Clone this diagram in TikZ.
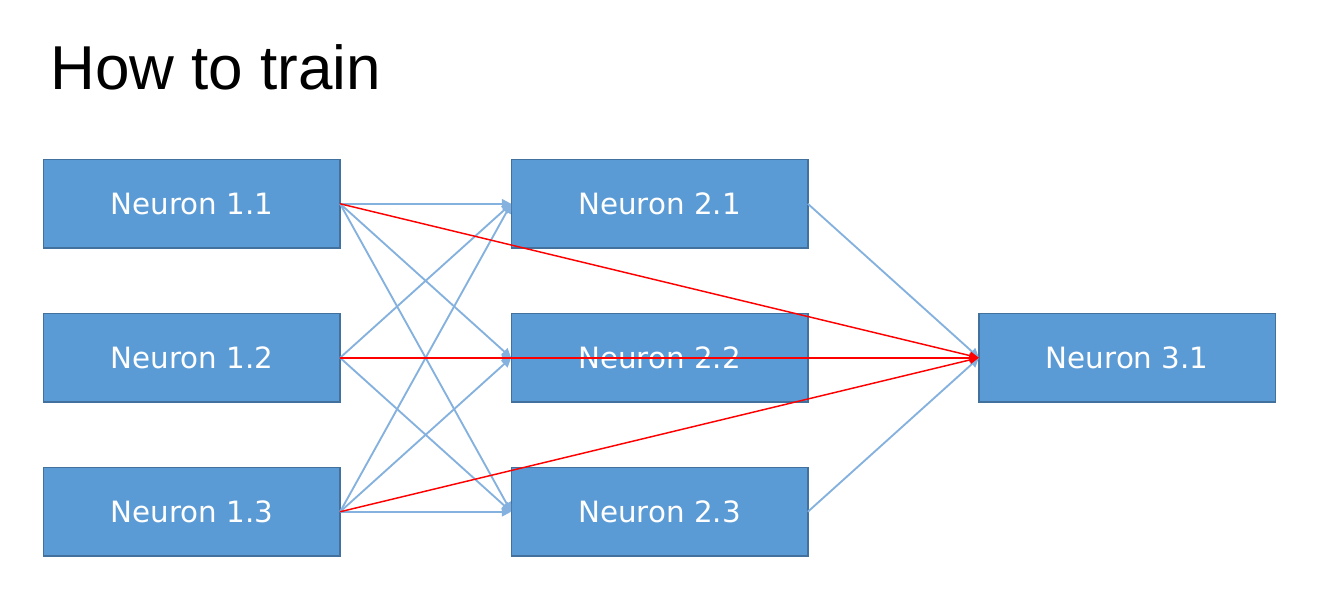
\documentclass[tikz,border=0pt]{standalone}
\usepackage{fontspec}
\setmainfont{Liberation Sans}
\newfontfamily\neuronfont{DejaVu Sans}
\usetikzlibrary{arrows.meta,
                positioning}

\definecolor{cellfill}{HTML}{5B9BD5}
\definecolor{cellline}{HTML}{41719C}
\definecolor{linkblue}{RGB}{132,177,222}

\begin{document}
\begin{tikzpicture}[
    x=0.75pt, y=-0.75pt,
        neuron/.style = {draw=cellline, line width=1pt, fill=cellfill,
                    text=white, font=\neuronfont\fontsize{22}{24}\selectfont,
                    minimum width=222.5pt, minimum height=66.5pt,
                    inner sep=0pt, outer sep=0pt},
        link/.style = {draw=linkblue, line width=1.4pt,
                    -{Triangle[length=7pt, width=7pt]}},
        hot/.style = {draw=red, line width=1.1pt,
                    -{Triangle[length=7pt, width=6pt]}}
        ]

    \useasboundingbox (0,0) rectangle (1338,602);

    \node[anchor=base west, inner sep=0pt, font=\fontsize{46.5}{50}\selectfont]
        (title) at (50,90) {How to train};

    \matrix[anchor=north west, inner sep=0pt,
            column sep=127.3pt, row sep=48pt] at (42.5,158.5)
    {
        % Row 1
        \node[neuron] (n11) {Neuron 1.1}; & \node[neuron] (n21) {Neuron 2.1}; & \\
        % Row 2
        \node[neuron] (n12) {Neuron 1.2}; & \node[neuron] (n22) {Neuron 2.2}; & \node[neuron] (n31) {Neuron 3.1}; \\
        % Row 3
        \node[neuron] (n13) {Neuron 1.3}; & \node[neuron] (n23) {Neuron 2.3}; & \\
    };

    % every input neuron feeds every hidden neuron
    \foreach \i in {1,2,3}
        \foreach \j in {1,2,3}
            \draw[link] (n1\i.east) -- (n2\j.west);

    % hidden layer to output
    \foreach \j in {1,2,3}
        \draw[link] (n2\j.east) -- (n31.west);

    % highlighted paths drawn over the boxes
    \foreach \i in {1,2,3}
        \draw[hot] (n1\i.east) -- (n31.west);

\end{tikzpicture}
\end{document}
